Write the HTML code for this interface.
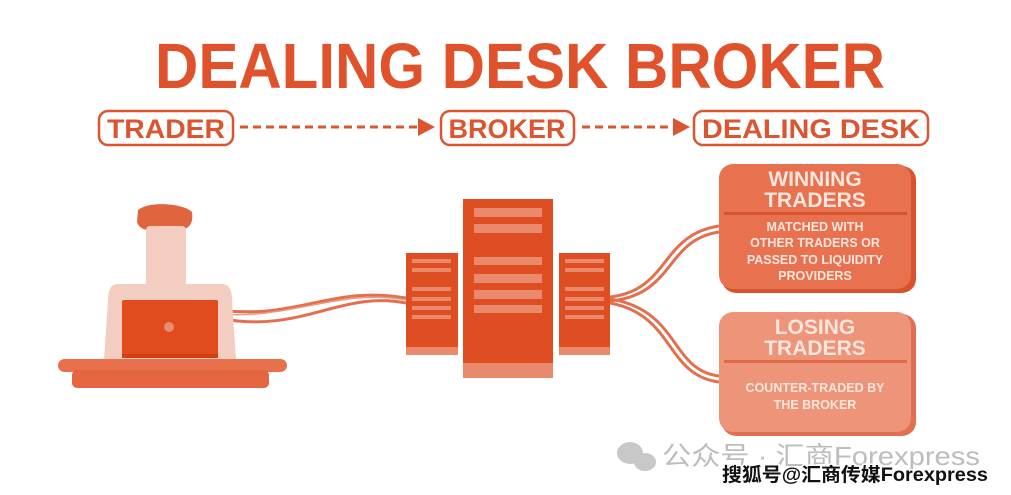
<!DOCTYPE html>
<html><head><meta charset="utf-8"><style>
html,body{margin:0;padding:0;background:#fff;}
svg{display:block;}
</style></head><body>
<svg width="1011" height="495" viewBox="0 0 1011 495" xmlns="http://www.w3.org/2000/svg" font-family="Liberation Sans, sans-serif" font-weight="bold">
<rect width="1011" height="495" fill="#fff"/>
<!-- title -->
<text x="520" y="88" font-size="64" fill="#E0522B" text-anchor="middle" textLength="730" lengthAdjust="spacingAndGlyphs">DEALING DESK BROKER</text>
<!-- label boxes -->
<g fill="none" stroke="#DA5530" stroke-width="2.5">
<rect x="99" y="111" width="134" height="34" rx="9"/>
<rect x="441" y="111" width="133" height="34" rx="9"/>
<rect x="694" y="111" width="234" height="34" rx="9"/>
<line x1="240" y1="127" x2="420" y2="127" stroke-dasharray="8 5" stroke-width="3"/>
<line x1="582" y1="127" x2="675" y2="127" stroke-dasharray="8 5" stroke-width="3"/>
</g>
<polygon points="418,118 435,127 418,136" fill="#DA5530"/>
<polygon points="673,118 690,127 673,136" fill="#DA5530"/>
<g font-size="27" fill="#DA5530" text-anchor="middle">
<text x="166" y="138" textLength="118" lengthAdjust="spacingAndGlyphs">TRADER</text>
<text x="507" y="138" textLength="117" lengthAdjust="spacingAndGlyphs">BROKER</text>
<text x="811" y="138" textLength="218" lengthAdjust="spacingAndGlyphs">DEALING DESK</text>
</g>
<!-- cables -->
<g fill="none" stroke="#E2704F" stroke-width="3">
<path d="M218,310 C300,320 330,285 406,298"/>
<path d="M218,318 C300,335 340,290 406,303"/>
<path d="M218,314 C290,320 340,288 406,300" stroke="#EC9A80" stroke-width="1.5"/>
<path d="M610,297 C670,290 660,235 719,226"/>
<path d="M610,301 C675,295 665,240 719,232"/>
<path d="M610,299 C680,310 670,370 719,376"/>
<path d="M610,303 C675,315 665,375 719,382"/>
</g>
<!-- person -->
<path d="M138,210 C150,200 185,204 192,212 C194,225 188,232 170,231 C155,232 140,232 137,222 Z" fill="#E0643E"/>
<rect x="146" y="226" width="40" height="62" rx="4" fill="#F3CDBF"/>
<path d="M118,284 L222,284 Q232,284 232,300 L236,360 L104,360 L108,300 Q108,284 118,284 Z" fill="#F3CDBF"/>
<rect x="122" y="300" width="96" height="57" rx="2" fill="#E14B1E"/>
<rect x="122" y="354" width="96" height="4" fill="#D23F12"/>
<circle cx="169" cy="327" r="5" fill="#EB8C6E"/>
<rect x="58" y="359" width="229" height="13" rx="6.5" fill="#E8704D"/>
<rect x="72" y="370" width="197" height="18" rx="5" fill="#E46540"/>
<!-- servers -->
<g fill="#DF4E22">
<rect x="406" y="253" width="52" height="102"/>
<rect x="463" y="199" width="90" height="179"/>
<rect x="559" y="253" width="51" height="102"/>
</g>
<g fill="#EA8A6C">
<rect x="406" y="347" width="52" height="8"/>
<rect x="463" y="363" width="90" height="15"/>
<rect x="559" y="347" width="51" height="8"/>
<rect x="474" y="208" width="68" height="9"/><rect x="474" y="224" width="68" height="9"/>
<rect x="474" y="257" width="68" height="8"/><rect x="474" y="274" width="68" height="9"/>
<rect x="474" y="290" width="68" height="9"/><rect x="474" y="305" width="68" height="8"/>
<rect x="412" y="259" width="39" height="4"/><rect x="412" y="268" width="39" height="4"/>
<rect x="412" y="287" width="39" height="4"/><rect x="412" y="297" width="39" height="4"/>
<rect x="412" y="306" width="39" height="4"/><rect x="412" y="315" width="39" height="4"/>
<rect x="565" y="259" width="39" height="4"/><rect x="565" y="268" width="39" height="4"/>
<rect x="565" y="287" width="39" height="4"/><rect x="565" y="297" width="39" height="4"/>
<rect x="565" y="306" width="39" height="4"/><rect x="565" y="315" width="39" height="4"/>
</g>
<!-- result boxes -->
<rect x="722" y="166" width="194" height="127" rx="14" fill="#D8522C"/>
<rect x="719" y="164" width="192" height="125" rx="14" fill="#E8714F"/>
<rect x="724" y="212" width="183" height="3" fill="#D65330"/>
<rect x="722" y="314" width="194" height="122" rx="14" fill="#E27050"/>
<rect x="719" y="312" width="192" height="120" rx="14" fill="#EE9479"/>
<rect x="724" y="360" width="183" height="3" fill="#E06A48"/>
<g fill="#FBE6DE" text-anchor="middle">
<text x="815" y="186" font-size="21">WINNING</text>
<text x="815" y="207" font-size="21">TRADERS</text>
<g font-size="12.5"><text x="815" y="231">MATCHED WITH</text><text x="815" y="247">OTHER TRADERS OR</text><text x="815" y="264">PASSED TO LIQUIDITY</text><text x="815" y="280">PROVIDERS</text></g>
<text x="815" y="334" font-size="21">LOSING</text>
<text x="815" y="355" font-size="21">TRADERS</text>
<g font-size="12.5"><text x="815" y="392">COUNTER-TRADED BY</text><text x="815" y="409">THE BROKER</text></g>
</g>
<!-- watermark -->
<g fill="#c8c8c8"><ellipse cx="630" cy="453" rx="13" ry="11"/><ellipse cx="645" cy="462" rx="11" ry="9"/></g>
<text x="662" y="465" font-size="26" font-weight="normal" fill="#bdbdbd" font-family="Liberation Sans, Noto Sans CJK SC, sans-serif" textLength="318" lengthAdjust="spacingAndGlyphs">公众号 · 汇商Forexpress</text>
<text x="722" y="481" font-size="19" fill="#111" stroke="#fff" stroke-width="3" paint-order="stroke" font-family="Liberation Sans, Noto Sans CJK SC, sans-serif" textLength="266" lengthAdjust="spacingAndGlyphs">搜狐号@汇商传媒Forexpress</text>
</svg>
</body></html>
